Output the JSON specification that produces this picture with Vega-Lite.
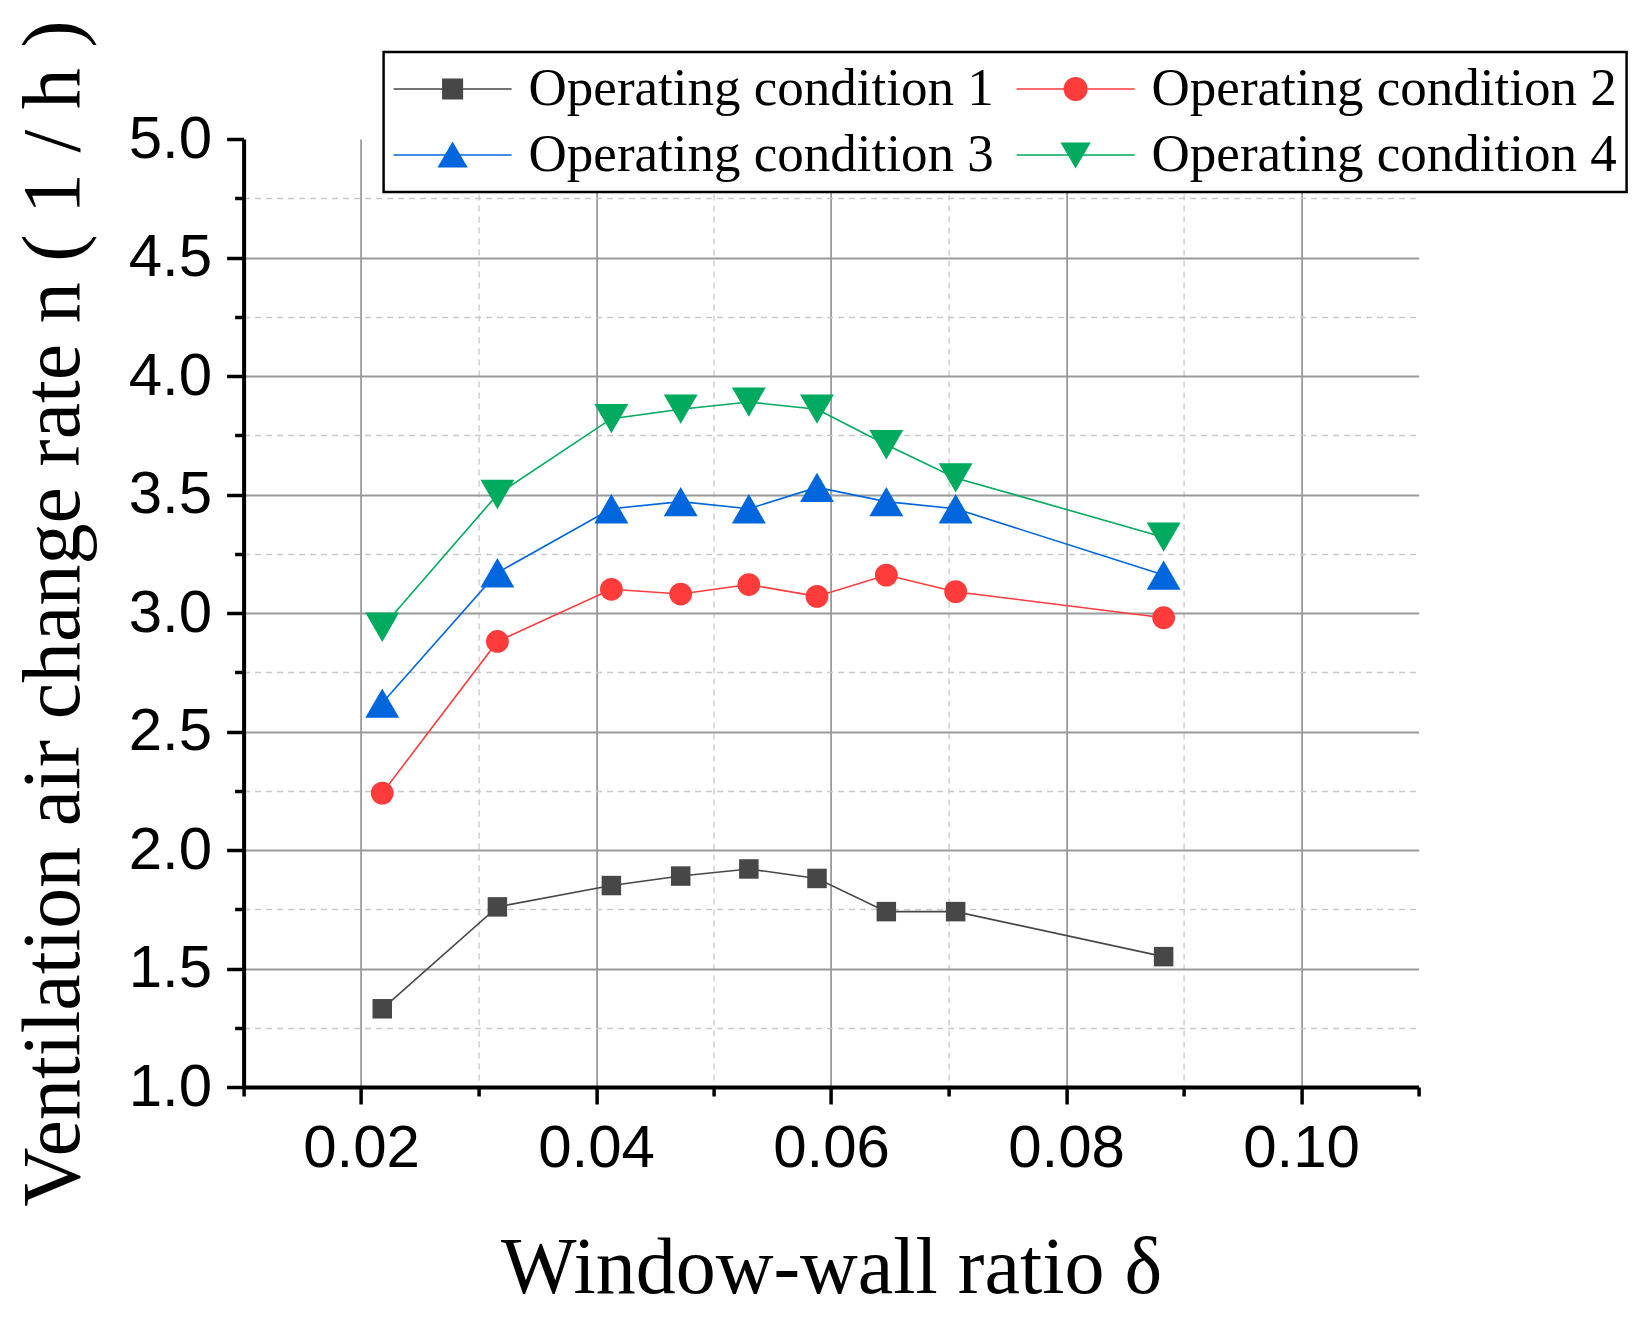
{
  "$schema": "https://vega.github.io/schema/vega-lite/v6.json",
  "width": 1175,
  "height": 948,
  "autosize": {"type": "none"},
  "padding": {"left": 243.6, "top": 139, "right": 220.4, "bottom": 235},
  "background": "white",
  "data": {
    "values": [
      {"x": 0.0218, "y": 1.33, "c": "Operating condition 1"},
      {"x": 0.0316, "y": 1.76, "c": "Operating condition 1"},
      {"x": 0.0413, "y": 1.85, "c": "Operating condition 1"},
      {"x": 0.0472, "y": 1.89, "c": "Operating condition 1"},
      {"x": 0.0530, "y": 1.92, "c": "Operating condition 1"},
      {"x": 0.0588, "y": 1.88, "c": "Operating condition 1"},
      {"x": 0.0647, "y": 1.74, "c": "Operating condition 1"},
      {"x": 0.0706, "y": 1.74, "c": "Operating condition 1"},
      {"x": 0.0883, "y": 1.55, "c": "Operating condition 1"},
      {"x": 0.0218, "y": 2.24, "c": "Operating condition 2"},
      {"x": 0.0316, "y": 2.88, "c": "Operating condition 2"},
      {"x": 0.0413, "y": 3.10, "c": "Operating condition 2"},
      {"x": 0.0472, "y": 3.08, "c": "Operating condition 2"},
      {"x": 0.0530, "y": 3.12, "c": "Operating condition 2"},
      {"x": 0.0588, "y": 3.07, "c": "Operating condition 2"},
      {"x": 0.0647, "y": 3.16, "c": "Operating condition 2"},
      {"x": 0.0706, "y": 3.09, "c": "Operating condition 2"},
      {"x": 0.0883, "y": 2.98, "c": "Operating condition 2"},
      {"x": 0.0218, "y": 2.62, "c": "Operating condition 3"},
      {"x": 0.0316, "y": 3.17, "c": "Operating condition 3"},
      {"x": 0.0413, "y": 3.44, "c": "Operating condition 3"},
      {"x": 0.0472, "y": 3.47, "c": "Operating condition 3"},
      {"x": 0.0530, "y": 3.44, "c": "Operating condition 3"},
      {"x": 0.0588, "y": 3.53, "c": "Operating condition 3"},
      {"x": 0.0647, "y": 3.47, "c": "Operating condition 3"},
      {"x": 0.0706, "y": 3.44, "c": "Operating condition 3"},
      {"x": 0.0883, "y": 3.16, "c": "Operating condition 3"},
      {"x": 0.0218, "y": 2.94, "c": "Operating condition 4"},
      {"x": 0.0316, "y": 3.50, "c": "Operating condition 4"},
      {"x": 0.0413, "y": 3.82, "c": "Operating condition 4"},
      {"x": 0.0472, "y": 3.86, "c": "Operating condition 4"},
      {"x": 0.0530, "y": 3.89, "c": "Operating condition 4"},
      {"x": 0.0588, "y": 3.86, "c": "Operating condition 4"},
      {"x": 0.0647, "y": 3.71, "c": "Operating condition 4"},
      {"x": 0.0706, "y": 3.57, "c": "Operating condition 4"},
      {"x": 0.0883, "y": 3.32, "c": "Operating condition 4"}
    ]
  },
  "encoding": {
    "x": {
      "field": "x",
      "type": "quantitative",
      "scale": {"domain": [0.01, 0.11], "nice": false, "zero": false},
      "axis": {
        "title": "Window-wall ratio δ",
        "values": [0.01, 0.02, 0.03, 0.04, 0.05, 0.06, 0.07, 0.08, 0.09, 0.1, 0.11],
        "grid": true,
        "domainColor": "black",
        "domainWidth": 4,
        "tickColor": "black",
        "tickWidth": 3.5,
        "tickSize": {"condition": {"test": "round(datum.value*100) % 2 == 1", "value": 9}, "value": 17},
        "labelExpr": "round(datum.value*100) % 2 == 1 ? '' : format(datum.value, '.2f')",
        "labelFont": "Liberation Sans",
        "labelFontSize": 60,
        "labelColor": "black",
        "labelPadding": 15,
        "labelFlush": false,
        "labelOverlap": false,
        "gridColor": {"condition": {"test": "round(datum.value*100) % 2 == 1", "value": "#c8c8c8"}, "value": "#9a9a9a"},
        "gridDash": {"condition": {"test": "round(datum.value*100) % 2 == 1", "value": [6, 5]}, "value": []},
        "gridWidth": {"condition": {"test": "round(datum.value*100) % 2 == 1", "value": 1.3}, "value": 1.8},
        "gridOpacity": {"condition": {"test": "datum.value < 0.015 || datum.value > 0.105", "value": 0}, "value": 1},
        "titleFont": "Liberation Serif",
        "titleFontSize": 80,
        "titleFontWeight": "normal",
        "titleColor": "black",
        "titlePadding": 51
      }
    },
    "y": {
      "field": "y",
      "type": "quantitative",
      "scale": {"domain": [1, 5], "nice": false, "zero": false},
      "axis": {
        "title": "Ventilation air change rate n ( 1 / h )",
        "values": [1, 1.25, 1.5, 1.75, 2, 2.25, 2.5, 2.75, 3, 3.25, 3.5, 3.75, 4, 4.25, 4.5, 4.75, 5],
        "grid": true,
        "domainColor": "black",
        "domainWidth": 4,
        "tickColor": "black",
        "tickWidth": 3.5,
        "tickSize": {"condition": {"test": "round(datum.value*4) % 2 == 1", "value": 9}, "value": 17},
        "labelExpr": "round(datum.value*4) % 2 == 1 ? '' : format(datum.value, '.1f')",
        "labelFont": "Liberation Sans",
        "labelFontSize": 60,
        "labelColor": "black",
        "labelPadding": 15,
        "labelFlush": false,
        "labelOverlap": false,
        "gridColor": {"condition": {"test": "round(datum.value*4) % 2 == 1", "value": "#c8c8c8"}, "value": "#9a9a9a"},
        "gridDash": {"condition": {"test": "round(datum.value*4) % 2 == 1", "value": [6, 5]}, "value": []},
        "gridWidth": {"condition": {"test": "round(datum.value*4) % 2 == 1", "value": 1.3}, "value": 1.8},
        "gridOpacity": {"condition": {"test": "datum.value > 4.9 || datum.value < 1.1", "value": 0}, "value": 1},
        "titleFont": "Liberation Serif",
        "titleFontSize": 82,
        "titleFontWeight": "normal",
        "titleColor": "black",
        "titlePadding": 33
      }
    },
    "color": {
      "field": "c",
      "type": "nominal",
      "scale": {
        "domain": ["Operating condition 1", "Operating condition 2", "Operating condition 3", "Operating condition 4"],
        "range": ["#474747", "#ff3b3b", "#0066dd", "#00aa5f"]
      },
      "legend": {
        "title": null,
        "orient": "none",
        "direction": "horizontal",
        "legendX": 140,
        "legendY": -87,
        "columns": 2,
        "symbolSize": 13924,
        "clipHeight": 56,
        "symbolStrokeWidth": 1.6,
        "labelFont": "Liberation Serif",
        "labelFontSize": 53,
        "labelColor": "black",
        "labelLimit": 0,
        "labelOffset": 16,
        "columnPadding": 21,
        "rowPadding": 10,
        "padding": 9,
        "strokeColor": "black",
        "fillColor": "white",
        "encode": {
          "legend": {"update": {"strokeWidth": {"value": 2.5}}},
          "symbols": {
            "update": {
              "shape": {"signal": "datum.value === 'Operating condition 1' ? 'M-1,0H1M-0.165,-0.165H0.165V0.165H-0.165Z' : datum.value === 'Operating condition 2' ? 'M-1,0H1M-0.19,0A0.19,0.19,0,1,0,0.19,0A0.19,0.19,0,1,0,-0.19,0Z' : datum.value === 'Operating condition 3' ? 'M-1,0H1M0,-0.2L0.233,0.2L-0.233,0.2Z' : 'M-1,0H1M0,0.2L0.233,-0.2L-0.233,-0.2Z'"},
              "fill": {"signal": "scale('color', datum.value)"},
              "stroke": {"signal": "scale('color', datum.value)"},
              "size": {"value": 13924},
              "strokeWidth": {"value": 1.6},
              "opacity": {"value": 1}
            }
          }
        }
      }
    }
  },
  "layer": [
    {"mark": {"type": "line", "strokeWidth": 1.6}},
    {
      "transform": [{"filter": "datum.c === 'Operating condition 1'"}],
      "mark": {"type": "point", "filled": true, "opacity": 1, "shape": "square", "size": 380}
    },
    {
      "transform": [{"filter": "datum.c === 'Operating condition 2'"}],
      "mark": {"type": "point", "filled": true, "opacity": 1, "shape": "circle", "size": 520}
    },
    {
      "transform": [{"filter": "datum.c === 'Operating condition 3'"}],
      "mark": {"type": "point", "filled": true, "opacity": 1, "shape": "triangle-up", "size": 1150}
    },
    {
      "transform": [{"filter": "datum.c === 'Operating condition 4'"}],
      "mark": {"type": "point", "filled": true, "opacity": 1, "shape": "triangle-down", "size": 1150}
    }
  ],
  "config": {"view": {"stroke": null}}
}
